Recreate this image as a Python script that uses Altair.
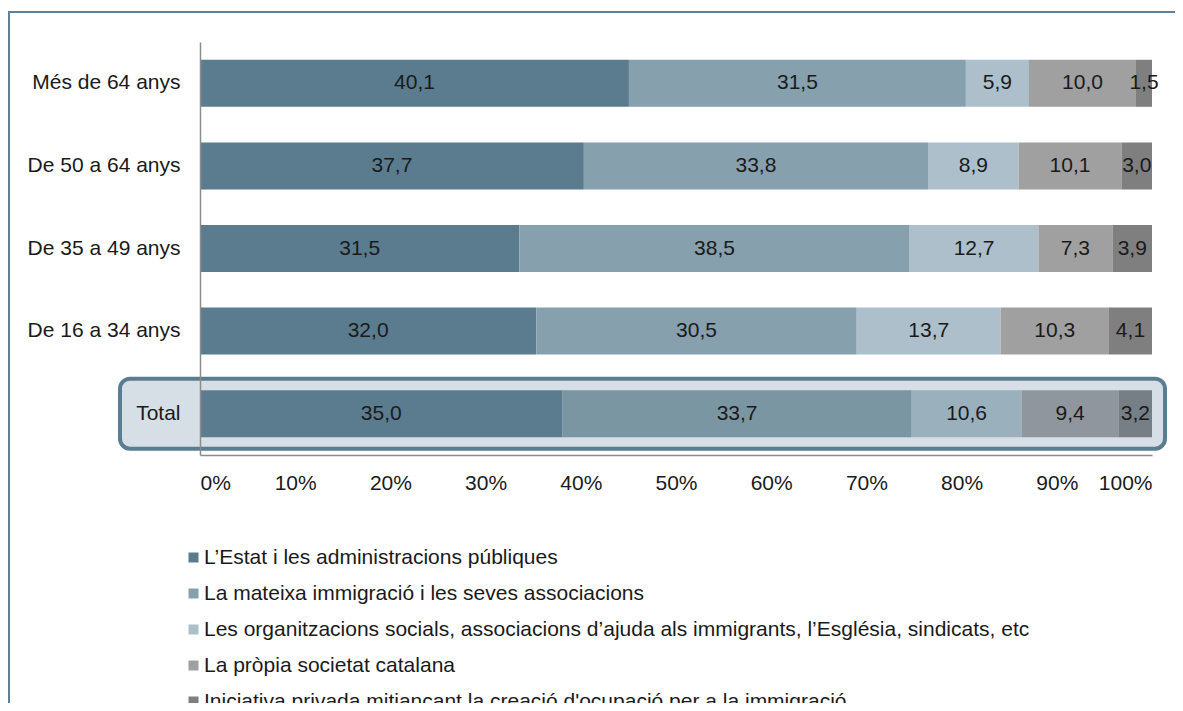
import altair as alt
import pandas as pd

rows = ["Més de 64 anys", "De 50 a 64 anys", "De 35 a 49 anys", "De 16 a 34 anys", "Total"]
series = [
    "L’Estat i les administracions públiques",
    "La mateixa immigració i les seves associacions",
    "Les organitzacions socials, associacions d’ajuda als immigrants, l’Església, sindicats, etc",
    "La pròpia societat catalana",
    "Iniciativa privada mitjançant la creació d'ocupació per a la immigració",
]
v_mes64 = [40.1, 31.5, 5.9, 10.0, 1.5]
v_50_64 = [37.7, 33.8, 8.9, 10.1, 3.0]
v_35_49 = [31.5, 38.5, 12.7, 7.3, 3.9]
v_16_34 = [32.0, 30.5, 13.7, 10.3, 4.1]
v_total = [35.0, 33.7, 10.6, 9.4, 3.2]
values = [v_mes64, v_50_64, v_35_49, v_16_34, v_total]

colors = ["#5B7C8F", "#86A0AD", "#ADBFCA", "#A0A0A0", "#7F7F7F"]
total_colors = ["#5B7C8F", "#7A96A3", "#9AB0BD", "#8F969D", "#767E86"]
x_ticks = [0, 0.1, 0.2, 0.3, 0.4, 0.5, 0.6, 0.7, 0.8, 0.9, 1.0]

recs = []
for r, vals in zip(rows, values):
    for i, (s, v) in enumerate(zip(series, vals)):
        recs.append({
            "row": r, "series": s, "order": i, "value": v,
            "fillc": (total_colors if r == "Total" else colors)[i],
        })
df = pd.DataFrame(recs)

FONT = "Liberation Sans"
FS = 21

yenc = alt.Y("row:N", sort=rows,
             scale=alt.Scale(domain=rows, paddingInner=0, paddingOuter=0),
             axis=alt.Axis(title=None, labelFontSize=FS, labelPadding=20, ticks=False,
                           domainColor="#8C8C8C", domainWidth=1.5, labelColor="#1a1a1a",
                           labelFont=FONT, zindex=1))

base = alt.Chart(df).transform_stack(
    stack="value", groupby=["row"], as_=["x0", "x1"], offset="normalize",
    sort=[alt.SortField(field="order", order="ascending")],
)

xenc = alt.X("x0:Q", scale=alt.Scale(domain=[0, 1], nice=False, zero=False),
             axis=alt.Axis(title=None, format="%", values=x_ticks, grid=False, ticks=False,
                           labelPadding=17, labelFontSize=FS, labelColor="#1a1a1a",
                           labelFont=FONT, domainColor="#8C8C8C", domainWidth=1.5,
                           zindex=1))

box = alt.Chart(pd.DataFrame({"row": ["Total"]})).mark_bar(
    size=70, cornerRadius=10, fill="#D6DFE5", stroke="#5B7D91", strokeWidth=4
).encode(y=yenc, x=alt.value(-80), x2=alt.value(965))

bars = base.transform_filter(alt.datum.row != "Total").mark_bar(size=47).encode(
    y=yenc, x=xenc, x2="x1:Q",
    color=alt.Color("series:N", scale=alt.Scale(domain=series, range=colors),
                    legend=alt.Legend(title=None, orient="none", legendX=-17, legendY=505,
                                      direction="vertical", symbolType="square",
                                      symbolSize=100, symbolStrokeWidth=0,
                                      labelFontSize=FS, labelFont=FONT,
                                      labelColor="#1a1a1a", rowPadding=14,
                                      labelOffset=0, labelLimit=0)),
)

total_bars = base.transform_filter(alt.datum.row == "Total").mark_bar(size=47).encode(
    y=yenc, x=xenc, x2="x1:Q",
    fill=alt.Fill("fillc:N", scale=None),
)

labels = base.transform_calculate(
    mid="(datum.x0 + datum.x1) / 2",
    label="replace(format(datum.value, '.1f'), '.', ',')",
).mark_text(fontSize=FS, font=FONT, color="#1a1a1a").encode(
    y=yenc, x=alt.X("mid:Q"), text="label:N"
)

frame = alt.Chart(pd.DataFrame({"a": [0]})).mark_rect(
    fillOpacity=0, stroke="#5E8199", strokeWidth=2
).encode(x=alt.value(-191), x2=alt.value(1000), y=alt.value(-30), y2=alt.value(720))

chart = alt.layer(frame, box, bars, total_bars, labels).properties(
    width=952, height=413,
    autosize=alt.AutoSizeParams(type="none"),
    padding={"left": 192, "top": 34, "right": 23, "bottom": 248},
).configure_view(stroke=None)

chart.save("out.html", embed_options={"renderer": "svg", "actions": False})
